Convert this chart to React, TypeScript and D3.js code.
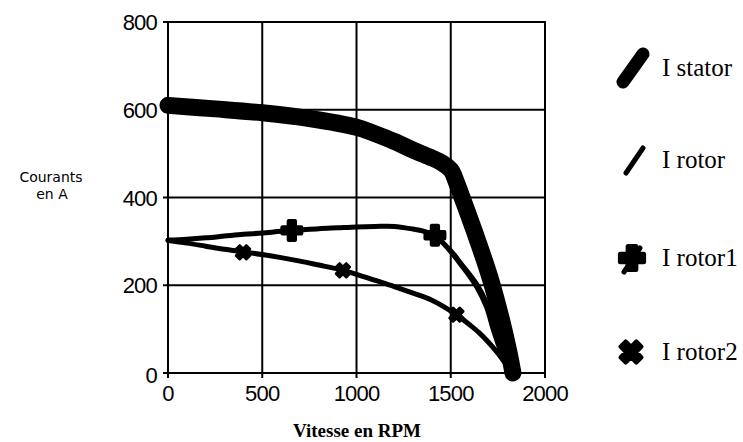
import React from "react";
import * as d3 from "d3";

const W = 743;
const H = 442;

const xTicks = [0, 500, 1000, 1500, 2000];
const yTicks = [0, 200, 400, 600, 800];

const rpmStator = [0, 250, 500, 750, 1000, 1100, 1200, 1300, 1400, 1450, 1500, 1530, 1560, 1640, 1710, 1770, 1810, 1830];
const iStator = [610, 602, 593, 580, 560, 545, 528, 508, 490, 480, 463, 435, 400, 305, 215, 120, 45, 0];

const rpmRotor = [0, 100, 200, 300, 400, 500, 600, 700, 800, 900, 1000, 1100, 1200, 1300, 1350, 1400, 1450, 1500, 1560, 1640, 1690, 1730, 1770, 1805, 1830];
const iRotor = [303, 305, 308, 312, 316, 319, 323, 326, 329, 331, 333, 334, 334, 328, 324, 316, 300, 282, 250, 205, 165, 110, 55, 18, 0];

const rpmRotor1 = [0, 100, 200, 300, 400, 500, 600, 700, 800, 900, 1000, 1100, 1200, 1300, 1350, 1400, 1460, 1565, 1638, 1690, 1725, 1765, 1800, 1830];
const iRotor1 = [303, 305, 308, 312, 316, 319, 323, 326, 329, 331, 333, 334, 334, 328, 324, 316, 296, 241, 196, 150, 100, 50, 18, 0];
const markRpm1 = [657, 1416];
const markI1 = [325, 314];

const rpmRotor2 = [0, 100, 200, 300, 400, 500, 600, 700, 800, 900, 1000, 1100, 1200, 1300, 1400, 1460, 1530, 1600, 1650, 1700, 1750, 1790, 1830];
const iRotor2 = [302, 296, 289, 282, 276, 270, 263, 255, 246, 237, 225, 211, 197, 182, 166, 152, 133, 110, 92, 70, 45, 22, 0];
const markRpm2 = [398, 928, 1530];
const markI2 = [275, 234, 133];

const legendLabels = ["I stator", "I rotor", "I rotor1", "I rotor2"];

export default function App() {
  const x = d3.scaleLinear().domain([0, 2000]).range([168, 545]);
  const y = d3.scaleLinear().domain([0, 800]).range([373, 22]);

  const line = (xs: number[], ys: number[]) =>
    d3
      .line<number>()
      .x((_, i) => x(xs[i]))
      .y((d) => y(d))
      .curve(d3.curveCatmullRom.alpha(0.5))(ys) as string;

  const crossPath = (size: number) => d3.symbol(d3.symbolCross, size)() as string;

  const tickFont = "'Liberation Sans', Arial, sans-serif";
  const serif = "'Liberation Serif', 'Times New Roman', serif";

  const legendY = [68, 160, 258, 352];

  return (
    <svg width={W} height={H} style={{ position: "absolute", left: 0, top: 0, background: "#fff" }}>
      <rect x={0} y={0} width={W} height={H} fill="#fff" />
      {/* grid */}
      {xTicks.slice(1, -1).map((t) => (
        <line key={"gx" + t} x1={x(t)} x2={x(t)} y1={y(800)} y2={y(0)} stroke="#000" strokeWidth={2} />
      ))}
      {yTicks.slice(1, -1).map((t) => (
        <line key={"gy" + t} x1={x(0)} x2={x(2000)} y1={y(t)} y2={y(t)} stroke="#000" strokeWidth={2} />
      ))}
      <rect x={x(0)} y={y(800)} width={x(2000) - x(0)} height={y(0) - y(800)} fill="none" stroke="#000" strokeWidth={2} />
      {/* tick marks */}
      {xTicks.map((t) => (
        <line key={"tx" + t} x1={x(t)} x2={x(t)} y1={y(0)} y2={y(0) + 5} stroke="#000" strokeWidth={2} />
      ))}
      {yTicks.map((t) => (
        <line key={"ty" + t} x1={x(0) - 5} x2={x(0)} y1={y(t)} y2={y(t)} stroke="#000" strokeWidth={2} />
      ))}
      {/* tick labels */}
      {xTicks.map((t) => (
        <text key={"lx" + t} x={x(t)} y={401} textAnchor="middle" fontFamily={tickFont} fontSize={22} letterSpacing={-0.8} fill="#000">
          {t}
        </text>
      ))}
      {yTicks.map((t) => (
        <text key={"ly" + t} x={157} y={y(t) + 8 + (t === 0 ? 2 : 0)} textAnchor="end" fontFamily={tickFont} fontSize={22} letterSpacing={-0.8} fill="#000">
          {t}
        </text>
      ))}
      {/* axis titles */}
      <text x={51} y={182} textAnchor="middle" fontFamily="'DejaVu Sans', sans-serif" fontSize={14} fill="#000">
        Courants
      </text>
      <text x={52} y={199} textAnchor="middle" fontFamily="'DejaVu Sans', sans-serif" fontSize={14} fill="#000">
        en A
      </text>
      <text x={357} y={437} textAnchor="middle" fontFamily={serif} fontWeight="bold" fontSize={19} fill="#000">
        Vitesse en RPM
      </text>

      {/* series */}
      <path d={line(rpmRotor2, iRotor2)} fill="none" stroke="#000" strokeWidth={5} strokeLinecap="round" strokeLinejoin="round" />
      <path d={line(rpmRotor1, iRotor1)} fill="none" stroke="#000" strokeWidth={5} strokeLinecap="round" strokeLinejoin="round" />
      <path d={line(rpmRotor, iRotor)} fill="none" stroke="#000" strokeWidth={3} strokeLinecap="round" strokeLinejoin="round" />
      {markRpm1.map((r, i) => (
        <path key={"m1" + i} d={crossPath(200)} transform={`translate(${x(r)},${y(markI1[i])})`} fill="#000" stroke="#000" strokeWidth={4} strokeLinejoin="round" />
      ))}
      {markRpm2.map((r, i) => (
        <path key={"m2" + i} d={crossPath(110)} transform={`translate(${x(r)},${y(markI2[i])}) rotate(45)`} fill="#000" stroke="#000" strokeWidth={3} strokeLinejoin="round" />
      ))}
      <path d={line(rpmStator, iStator)} fill="none" stroke="#000" strokeWidth={17} strokeLinecap="round" strokeLinejoin="round" />

      {/* legend */}
      <line x1={623} y1={legendY[0] + 14} x2={643} y2={legendY[0] - 14} stroke="#000" strokeWidth={13} strokeLinecap="round" />
      <line x1={626} y1={legendY[1] + 13} x2={643} y2={legendY[1] - 12} stroke="#000" strokeWidth={5} strokeLinecap="round" />
      <line x1={624} y1={legendY[2] + 14} x2={640} y2={legendY[2] - 10} stroke="#000" strokeWidth={5} strokeLinecap="round" />
      <path d={crossPath(300)} transform={`translate(632,${legendY[2]})`} fill="#000" stroke="#000" strokeWidth={5} strokeLinejoin="round" />
      <path d={crossPath(280)} transform={`translate(631,${legendY[3]}) rotate(45)`} fill="#000" stroke="#000" strokeWidth={4} strokeLinejoin="round" />
      {legendLabels.map((l, i) => (
        <text key={l} x={662} y={legendY[i] + 8} fontFamily={serif} fontSize={25} fill="#000">
          {l}
        </text>
      ))}
    </svg>
  );
}
